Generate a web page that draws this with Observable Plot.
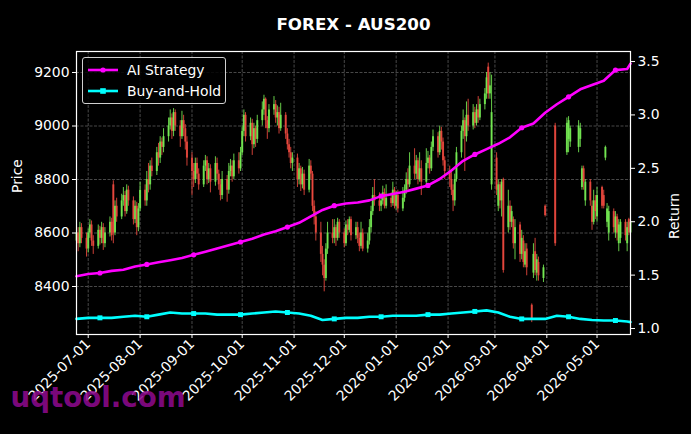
<!DOCTYPE html>
<html><head><meta charset="utf-8">
<script src="https://cdn.jsdelivr.net/npm/d3@7"></script>
<script src="https://cdn.jsdelivr.net/npm/@observablehq/plot@0.6"></script>
<style>
html,body{margin:0;padding:0;background:#000;}
#wrap{position:relative;width:691px;height:434px;background:#000;overflow:hidden;font-family:"DejaVu Sans",sans-serif;}
#legend{position:absolute;left:82px;top:57px;width:142px;height:45px;border:1px solid #d0d0d0;border-radius:3px;background:rgba(0,0,0,0.85);color:#fff;font-size:13.9px;line-height:16px;}
#legend span{position:absolute;left:44px;white-space:nowrap;}
</style></head><body><div id="wrap"></div>
<script>
// ---- data ----
const startDate = "2025-06-24";
const tradingDays = 238;
const opens = [
8570,8600,8560,8620,8580,8540,8600,8630,8570,8550,
8610,8580,8620,8560,8600,8640,8780,8600,8700,8660,
8720,8740,8680,8760,8720,8650,8700,8620,8690,8760,
8720,8800,8780,8850,8830,8900,8880,8940,8920,8960,
9000,9030,8980,9050,9000,8960,9020,8990,8940,8880,
8830,8800,8860,8820,8780,8850,8870,8800,8840,8790,
8860,8820,8780,8740,8800,8760,8830,8850,8810,8870,
8840,8900,8980,9040,8960,9010,8930,8990,8950,9020,
9060,9100,9020,8990,9060,9080,9030,9050,8990,9040,
8970,8930,8900,8860,8880,8800,8840,8780,8820,8760,
8850,8820,8700,8660,8600,8520,8480,8430,8540,8600,
8580,8620,8580,8640,8600,8560,8630,8610,8650,8590,
8620,8580,8550,8600,8540,8570,8620,8680,8740,8720,
8700,8720,8750,8700,8730,8710,8760,8700,8740,8690,
8730,8760,8800,8780,8850,8820,8870,8800,8840,8790,
8860,8880,8840,8920,8960,8900,8980,8940,8870,8830,
8800,8760,8720,8800,8900,8980,9020,8960,9040,9000,
9050,9010,9060,9030,9080,9120,9220,9120,8780,8880,
8700,8780,8720,8800,8620,8700,8640,8650,8560,8630,
8520,8570,8480,8540,8330,8450,8530,8450,8490,8430,
8700,null,null,null,9000,null,null,null,null,8900,
8950,8940,null,null,8920,8950,8770,8840,8720,8790,
8700,8640,8720,8660,8770,8740,8880,8640,8600,8680,
8600,8660,8560,8580,8640,8560,8650,8600];
const closes = [
8600,8560,8620,8580,8540,8600,8630,8570,8550,8610,
8580,8620,8560,8600,8640,8590,8600,8700,8660,8720,
8740,8680,8760,8720,8650,8700,8620,8690,8760,8720,
8800,8780,8850,8830,8900,8880,8940,8920,8960,9000,
9030,8980,9050,9000,8960,9020,8990,8940,8880,8830,
8800,8860,8820,8780,8850,8870,8800,8840,8790,8860,
8820,8780,8740,8800,8760,8830,8850,8810,8870,8840,
8900,8980,9040,8960,9010,8930,8990,8950,9020,9060,
9100,9020,8990,9060,9080,9030,9050,8990,9040,8970,
8930,8900,8860,8880,8800,8840,8780,8820,8760,8850,
8820,8700,8660,8600,8520,8480,8430,8540,8600,8580,
8620,8580,8640,8600,8560,8630,8610,8650,8590,8620,
8580,8550,8600,8540,8570,8620,8680,8740,8720,8700,
8720,8750,8700,8730,8710,8760,8700,8740,8690,8730,
8760,8800,8780,8850,8820,8870,8800,8840,8790,8860,
8880,8840,8920,8960,8900,8980,8940,8870,8830,8800,
8760,8720,8800,8900,8980,9020,8960,9040,9000,9050,
9010,9060,9030,9080,9120,9180,9120,9150,9050,8760,
8780,8720,8790,8460,8700,8640,8680,8560,8620,8520,
8580,8490,8530,8470,8280,8520,8460,8500,8440,8470,
8665,null,null,null,8560,null,null,null,null,9010,
9020,8990,null,null,9000,8990,8840,8790,8790,8720,
8640,8720,8680,8740,8700,8700,8920,8690,8680,8620,
8660,8600,8630,8640,8590,8620,8600,8640];
const highs = [
8630,8620,8640,8635,8600,8615,8650,8645,8590,8630,
8625,8640,8635,8620,8660,8655,8795,8720,8730,8745,
8770,8755,8780,8775,8735,8720,8715,8710,8790,8780,
8830,8860,8870,8880,8920,8935,8960,8955,8990,9030,
9060,9045,9065,9060,9020,9055,9040,9005,8960,8900,
8860,8880,8880,8840,8870,8890,8885,8860,8855,8885,
8880,8835,8800,8830,8815,8860,8875,8870,8895,8900,
8920,9000,9060,9050,9030,9025,9010,9000,9040,9090,
9115,9105,9035,9080,9110,9095,9075,9070,9085,9050,
8990,8950,8920,8900,8895,8860,8850,8845,8835,8875,
8870,8830,8720,8680,8640,8550,8500,8560,8640,8650,
8650,8630,8655,8650,8615,8645,8650,8660,8660,8640,
8640,8600,8640,8615,8600,8650,8700,8770,8800,8750,
8745,8775,8765,8780,8750,8790,8770,8755,8760,8770,
8780,8825,8840,8900,8915,8890,8880,8900,8870,8915,
8905,8890,8940,8985,8975,9000,8995,8955,8885,8850,
8830,8780,8820,8920,9000,9060,9030,9090,9100,9080,
9070,9080,9110,9100,9140,9200,9235,9200,9190,8900,
8800,8790,8800,8805,8760,8720,8700,8660,8650,8640,
8610,8590,8560,8560,8335,8560,8580,8520,8510,8480,
8705,null,null,null,9010,null,null,null,null,9030,
9035,9000,null,null,9020,9010,8850,8850,8800,8800,
8720,8760,8740,8770,8775,8760,8925,8710,8700,8690,
8680,8670,8650,8650,8650,8640,8655,8650];
const lows = [
8550,8530,8545,8560,8510,8525,8580,8550,8520,8540,
8555,8560,8535,8545,8585,8570,8560,8590,8640,8650,
8700,8660,8670,8700,8630,8635,8590,8605,8680,8700,
8700,8750,8760,8810,8815,8850,8860,8890,8900,8940,
8985,8950,8960,8980,8920,8950,8960,8910,8850,8740,
8770,8785,8800,8760,8770,8830,8780,8785,8750,8775,
8800,8760,8720,8725,8715,8745,8810,8790,8800,8820,
8830,8890,8960,8940,8945,8890,8915,8920,8935,9000,
9040,8990,8950,8975,9040,9010,9000,8970,8980,8950,
8910,8880,8840,8830,8770,8780,8755,8765,8740,8750,
8800,8680,8630,8570,8490,8440,8380,8420,8520,8560,
8560,8550,8570,8580,8545,8550,8590,8600,8570,8575,
8560,8530,8540,8530,8525,8555,8600,8665,8700,8680,
8680,8705,8690,8690,8695,8700,8690,8685,8675,8680,
8715,8745,8760,8770,8800,8800,8780,8790,8740,8780,
8840,8820,8830,8905,8880,8890,8910,8850,8800,8770,
8740,8680,8700,8790,8880,8950,8830,8940,8980,8985,
8990,9000,9010,9020,9060,9100,9100,9100,8760,8740,
8680,8690,8660,8450,8600,8610,8620,8540,8500,8490,
8500,8470,8470,8440,8265,8430,8440,8420,8420,8415,
8660,null,null,null,8550,null,null,null,null,8890,
8900,8920,null,null,8900,8920,8760,8760,8700,8700,
8610,8630,8650,8640,8690,8690,8870,8620,8570,8600,
8580,8570,8530,8560,8570,8530,8590,8590];
// strategy lines sampled every 5 trading days (last point = last day)
const lineStep = 5;
const aiStrategy = [1.49,1.51,1.52,1.54,1.55,1.58,1.60,1.62,1.64,1.66,1.69,1.72,1.75,1.78,1.81,1.84,1.88,1.91,1.95,1.99,2.05,2.11,2.15,2.17,2.18,2.20,2.24,2.26,2.28,2.31,2.34,2.40,2.48,2.57,2.63,2.68,2.73,2.79,2.88,2.92,3.02,3.10,3.17,3.24,3.28,3.32,3.42,3.43,3.48];
const buyHold = [1.09,1.10,1.10,1.10,1.11,1.12,1.11,1.13,1.15,1.14,1.14,1.14,1.13,1.13,1.13,1.14,1.15,1.16,1.15,1.14,1.12,1.08,1.09,1.10,1.10,1.11,1.11,1.12,1.12,1.12,1.13,1.13,1.14,1.15,1.16,1.17,1.15,1.11,1.09,1.09,1.09,1.12,1.11,1.09,1.08,1.075,1.075,1.065,1.06];
const priceTicks = [8400,8600,8800,9000,9200];
const returnTicks = [1.0,1.5,2.0,2.5,3.0,3.5];
const priceDomain = [8220.6, 9278.5];
const returnDomain = [0.944, 3.594];
const title = "FOREX - AUS200";
const seriesNames = ["AI Strategy","Buy-and-Hold"];
const upColor = "#77ee55", downColor = "#f04a40";

// ---- build ----
const dates = [];
{ let d = new Date(startDate + "T00:00:00Z");
  while (dates.length < tradingDays) { const w = d.getUTCDay(); if (w !== 0 && w !== 6) dates.push(new Date(d)); d = new Date(d.getTime() + 86400000); } }
const scaleK = (priceDomain[1]-priceDomain[0])/(returnDomain[1]-returnDomain[0]);
const toPrice = r => priceDomain[0] + (r - returnDomain[0]) * scaleK;
const fromPrice = p => (p - priceDomain[0]) / scaleK + returnDomain[0];

const candles = dates.map((d,i)=>({date:d,o:opens[i],h:highs[i],l:lows[i],c:closes[i]})).filter(d=>d.o!=null);
candles.forEach(d=>d.col = d.c >= d.o ? upColor : downColor);
const lineRows = aiStrategy.map((v,k)=>({k, date: dates[Math.min(k*lineStep, tradingDays-1)], ai: toPrice(v), bh: toPrice(buyHold[k])}));
const markRows = lineRows.filter(d=>d.k % 4 === 2);
const monthTicks = d3.utcMonth.range(new Date(Date.UTC(2025,6,1)), new Date(Date.UTC(2026,4,2)));

const chart = Plot.plot({
  width: 691, height: 434,
  marginLeft: 76, marginRight: 61, marginTop: 51, marginBottom: 100,
  style: {background: "#000", color: "#fff", fontFamily: "DejaVu Sans", fontSize: "13.9px", overflow: "visible"},
  x: {type: "utc", domain: [dates[0], dates[tradingDays-1]]},
  y: {domain: priceDomain},
  marks: [
    Plot.gridX(monthTicks, {stroke: "#5a5a5a", strokeOpacity: 1, strokeWidth: 0.8, strokeDasharray: "3,1.5"}),
    Plot.gridY(priceTicks, {stroke: "#5a5a5a", strokeOpacity: 1, strokeWidth: 0.8, strokeDasharray: "3,1.5"}),
    Plot.ruleX(candles, {x: "date", y1: "l", y2: "h", stroke: "col", strokeWidth: 1, strokeOpacity: 0.85}),
    Plot.ruleX(candles, {x: "date", y1: "o", y2: "c", stroke: "col", strokeWidth: 2, strokeOpacity: 0.85}),
    Plot.line(lineRows, {x: "date", y: "ai", stroke: "#ff00ff", strokeWidth: 2.6}),
    Plot.dot(markRows, {x: "date", y: "ai", fill: "#ff00ff", r: 2.6}),
    Plot.line(lineRows, {x: "date", y: "bh", stroke: "#00ffff", strokeWidth: 2.6}),
    Plot.dot(markRows, {x: "date", y: "bh", fill: "#00ffff", r: 2.8, symbol: "square"}),
    Plot.axisY(priceTicks, {anchor: "left", tickSize: 4, tickPadding: 3, label: null, stroke: "#fff", fill: "#fff", tickFormat: d3.format("d")}),
    Plot.axisY(returnTicks.map(toPrice), {anchor: "right", tickSize: 4, tickPadding: 3, label: null, stroke: "#fff", fill: "#fff", tickFormat: p => fromPrice(p).toFixed(1)}),
    Plot.axisX(monthTicks, {tickFormat: d3.utcFormat("%Y-%m-%d"), tickRotate: -45, tickSize: 4, tickPadding: 3, label: null, stroke: "#fff", fill: "#fff"}),
    Plot.frame({stroke: "#fff", strokeWidth: 1.2}),
    Plot.text([title], {frameAnchor: "top", dy: -33, fontWeight: "bold", fontSize: 16.7, fill: "#fff"}),
    Plot.text(["Price"], {frameAnchor: "left", rotate: -90, dx: -59, fill: "#fff"}),
    Plot.text(["Return"], {frameAnchor: "right", rotate: -90, dx: 44, fill: "#fff"}),
    Plot.text(["uqtool.com"], {frameAnchor: "bottom-left", textAnchor: "start", dx: -66, dy: 72, fontWeight: "bold", fontSize: 27.7, fill: "#8c0a8c", fillOpacity: 0.9})
  ]
});
const wrap = document.getElementById("wrap");
wrap.appendChild(chart);

const legend = document.createElement("div");
legend.id = "legend";
legend.innerHTML = `<svg width="40" height="45" style="position:absolute;left:0;top:0">
  <line x1="5" y1="12" x2="35" y2="12" stroke="#ff00ff" stroke-width="2.6"/><circle cx="20" cy="12" r="2.6" fill="#ff00ff"/>
  <line x1="5" y1="33" x2="35" y2="33" stroke="#00ffff" stroke-width="2.6"/><rect x="17.2" y="30.2" width="5.6" height="5.6" fill="#00ffff"/>
</svg><span style="top:4px">${seriesNames[0]}</span><span style="top:25px">${seriesNames[1]}</span>`;
wrap.appendChild(legend);
</script></body></html>
